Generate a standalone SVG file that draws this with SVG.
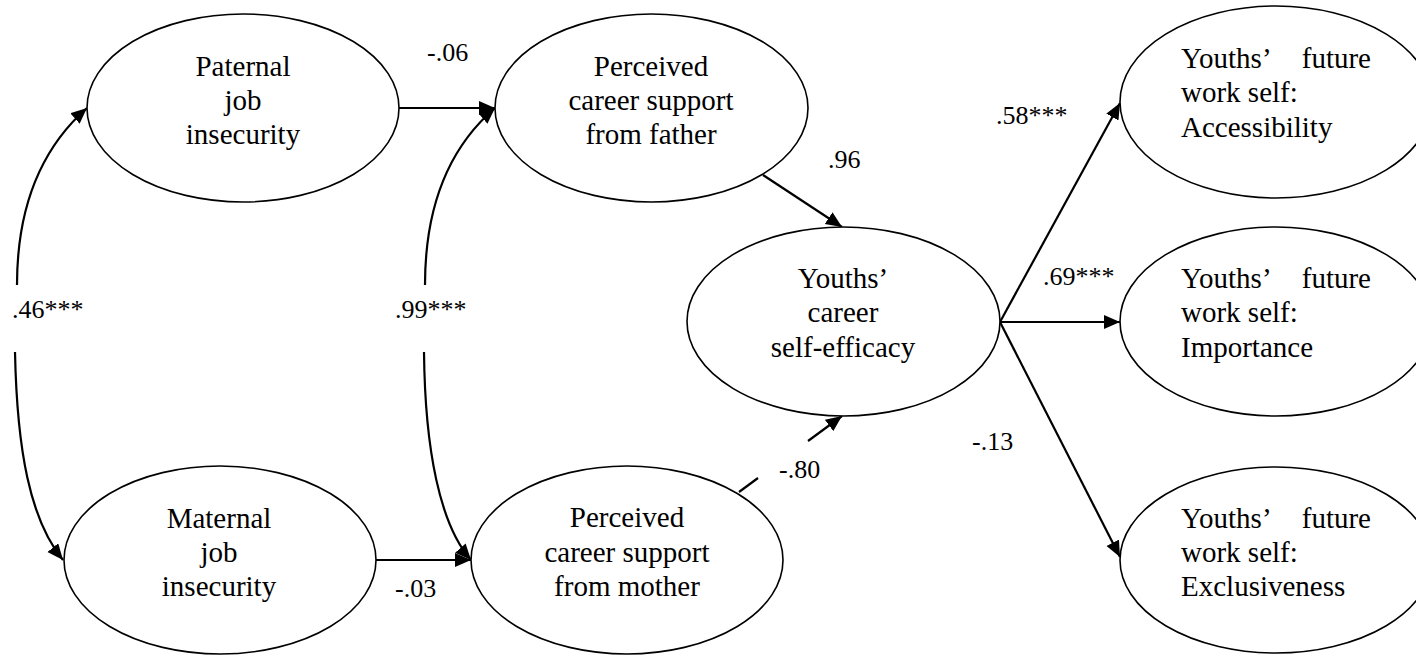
<svg xmlns="http://www.w3.org/2000/svg" width="1416" height="655" viewBox="0 0 1416 655">
<style>
.node ellipse{fill:#fff;stroke:#000;stroke-width:1.6}
.node text{font-size:29px;fill:#000}
.c{text-anchor:middle}
.conn path{fill:none;stroke:#000;stroke-width:2.2;marker-end:url(#ah)}
.conn path.plain{marker-end:none}
.lbl{font-size:26px;fill:#000}
</style>
<defs>
<marker id="ah" markerUnits="userSpaceOnUse" markerWidth="17" markerHeight="15" refX="16" refY="7" orient="auto">
<path d="M0,0 L16,7 L0,14 z" fill="#000"/>
</marker>
</defs>
<rect width="1416" height="655" fill="#fff"/>
<g id="connectors" class="conn">
<path d="M17,285 C17,200 45,145 87,108"/>
<path d="M15,352 C17,450 30,520 63,560"/>
<path d="M425,285 C425,200 452,145 495,108"/>
<path d="M424,352 C425,450 440,525 471,560"/>
<path d="M399,108 L495,108"/>
<path d="M376,560 L471,560"/>
<path d="M763,175 L842,227"/>
<path class="plain" d="M739,492 L758,478"/>
<path d="M808,441 L842,416"/>
<path d="M1000,322 L1120,103"/>
<path d="M1000,322 L1120,322"/>
<path d="M1000,322 L1120,557"/>
</g>
<g font-family="'Liberation Serif', 'DejaVu Serif', serif">
<g id="paternal" class="node">
<ellipse cx="243" cy="108" rx="156" ry="94"/>
<text class="c" x="243" y="76">Paternal</text>
<text class="c" x="243" y="110">job</text>
<text class="c" x="243" y="144">insecurity</text>
</g>
<g id="maternal" class="node">
<ellipse cx="220" cy="560" rx="156" ry="94"/>
<text class="c" x="219" y="528">Maternal</text>
<text class="c" x="219" y="562">job</text>
<text class="c" x="219" y="596">insecurity</text>
</g>
<g id="father-support" class="node">
<ellipse cx="651.5" cy="108" rx="156.5" ry="94"/>
<text class="c" x="651" y="76">Perceived</text>
<text class="c" x="651" y="110">career support</text>
<text class="c" x="651" y="144">from father</text>
</g>
<g id="mother-support" class="node">
<ellipse cx="627" cy="560" rx="156" ry="94"/>
<text class="c" x="627" y="527">Perceived</text>
<text class="c" x="627" y="562">career support</text>
<text class="c" x="627" y="596">from mother</text>
</g>
<g id="self-efficacy" class="node">
<ellipse cx="843.5" cy="321.5" rx="156.5" ry="94.5"/>
<text class="c" x="843" y="288">Youths’</text>
<text class="c" x="843" y="322">career</text>
<text class="c" x="843" y="357">self-efficacy</text>
</g>
<g id="accessibility" class="node">
<ellipse cx="1276" cy="102" rx="156" ry="96"/>
<text x="1181" y="68">Youths’</text>
<text x="1371" y="68" text-anchor="end">future</text>
<text x="1181" y="102">work self:</text>
<text x="1181" y="137">Accessibility</text>
</g>
<g id="importance" class="node">
<ellipse cx="1276" cy="321.5" rx="156" ry="94.5"/>
<text x="1181" y="288">Youths’</text>
<text x="1371" y="288" text-anchor="end">future</text>
<text x="1181" y="322">work self:</text>
<text x="1181" y="357">Importance</text>
</g>
<g id="exclusiveness" class="node">
<ellipse cx="1276" cy="560" rx="156" ry="93"/>
<text x="1181" y="528">Youths’</text>
<text x="1371" y="528" text-anchor="end">future</text>
<text x="1181" y="562">work self:</text>
<text x="1181" y="596">Exclusiveness</text>
</g>
<g id="labels">
<text class="lbl" x="427" y="61">-.06</text>
<text class="lbl" x="395" y="597">-.03</text>
<text class="lbl" x="12" y="318">.46***</text>
<text class="lbl" x="395" y="318">.99***</text>
<text class="lbl" x="828" y="168">.96</text>
<text class="lbl" x="779" y="478">-.80</text>
<text class="lbl" x="996" y="124">.58***</text>
<text class="lbl" x="1043" y="285">.69***</text>
<text class="lbl" x="972" y="450">-.13</text>
</g>
</g>
</svg>
